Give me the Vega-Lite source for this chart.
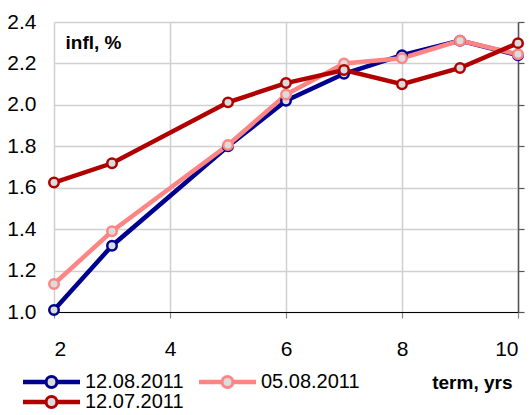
{
  "$schema": "https://vega.github.io/schema/vega-lite/v6.json",
  "autosize": {"type": "none"},
  "width": 464,
  "height": 290,
  "padding": {"left": 54, "top": 22, "right": 12, "bottom": 103},
  "config": {
    "font": "Liberation Sans",
    "view": {"stroke": null},
    "axis": {"labelColor": "#000", "titleColor": "#000"}
  },
  "data": {
    "values": [
      {"series": "12.08.2011", "term": 2, "value": 1.01},
      {"series": "12.08.2011", "term": 3, "value": 1.32},
      {"series": "12.08.2011", "term": 5, "value": 1.80},
      {"series": "12.08.2011", "term": 6, "value": 2.02},
      {"series": "12.08.2011", "term": 7, "value": 2.15},
      {"series": "12.08.2011", "term": 8, "value": 2.24},
      {"series": "12.08.2011", "term": 9, "value": 2.31},
      {"series": "12.08.2011", "term": 10, "value": 2.24},
      {"series": "05.08.2011", "term": 2, "value": 1.135},
      {"series": "05.08.2011", "term": 3, "value": 1.39},
      {"series": "05.08.2011", "term": 5, "value": 1.806},
      {"series": "05.08.2011", "term": 6, "value": 2.05},
      {"series": "05.08.2011", "term": 7, "value": 2.20},
      {"series": "05.08.2011", "term": 8, "value": 2.225},
      {"series": "05.08.2011", "term": 9, "value": 2.31},
      {"series": "05.08.2011", "term": 10, "value": 2.244},
      {"series": "12.07.2011", "term": 2, "value": 1.625},
      {"series": "12.07.2011", "term": 3, "value": 1.718},
      {"series": "12.07.2011", "term": 5, "value": 2.012},
      {"series": "12.07.2011", "term": 6, "value": 2.105},
      {"series": "12.07.2011", "term": 7, "value": 2.168},
      {"series": "12.07.2011", "term": 8, "value": 2.10},
      {"series": "12.07.2011", "term": 9, "value": 2.178},
      {"series": "12.07.2011", "term": 10, "value": 2.298}
    ]
  },
  "encoding": {
    "x": {
      "field": "term",
      "type": "quantitative",
      "scale": {"domain": [2, 10], "nice": false, "zero": false},
      "axis": {
        "values": [2, 4, 6, 8, 10],
        "grid": true,
        "gridColor": "#d0d0d0",
        "gridWidth": 1.5,
        "domainColor": "#000",
        "domainWidth": 1.2,
        "tickColor": "#888",
        "tickSize": 6,
        "tickWidth": 1.2,
        "labelFontSize": 21,
        "labelPadding": 20,
        "labelBaseline": "top",
        "title": "term, yrs",
        "titleFontSize": 19,
        "titleFontWeight": "bold",
        "titleX": 458,
        "titleY": 76,
        "titleAlign": "right",
        "titleBaseline": "alphabetic"
      }
    }
  },
  "layer": [
    {
      "mark": {"type": "line", "strokeWidth": 4.5},
      "encoding": {
        "y": {
          "field": "value",
          "type": "quantitative",
          "scale": {"domain": [1.0, 2.4], "nice": false, "zero": false},
          "axis": {
            "values": [1.0, 1.2, 1.4, 1.6, 1.8, 2.0, 2.2, 2.4],
            "format": ".1f",
            "grid": true,
            "gridColor": "#d0d0d0",
            "gridWidth": 1.5,
            "domain": false,
            "ticks": false,
            "labelPadding": 18,
            "labelFontSize": 21,
            "title": "infl, %",
            "titleAngle": 0,
            "titleFontSize": 19,
            "titleFontWeight": "bold",
            "titleX": 11,
            "titleY": 26,
            "titleAlign": "left",
            "titleBaseline": "alphabetic"
          }
        },
        "color": {
          "field": "series",
          "type": "nominal",
          "scale": {
            "domain": ["12.08.2011", "05.08.2011", "12.07.2011"],
            "range": ["#000090", "#ff8585", "#b00000"]
          },
          "legend": {
            "orient": "none",
            "legendX": -31,
            "legendY": 350,
            "direction": "horizontal",
            "columns": 2,
            "columnPadding": 15,
            "rowPadding": 0,
            "title": null,
            "symbolType": "M-1,-0.03H-0.2V0.03H-1Z M0.2,-0.03H1V0.03H0.2Z M-0.2,0A0.2,0.2 0 1,1 0.2,0A0.2,0.2 0 1,1 -0.2,0Z",
            "symbolSize": 2916,
            "symbolStrokeWidth": 3,
            "labelFontSize": 20,
            "labelOffset": 5,
            "labelColor": "#000",
            "clipHeight": 20,
            "encode": {
              "symbols": {
                "update": {
                  "fill": {"value": "#dcdcdc"},
                  "fillOpacity": {"value": 1},
                  "strokeWidth": {"value": 3}
                }
              }
            }
          }
        }
      }
    },
    {
      "mark": {"type": "point", "filled": false, "fill": "#dcdcdc", "fillOpacity": 1, "opacity": 1, "size": 90, "strokeWidth": 2.5},
      "encoding": {
        "y": {
          "field": "value",
          "type": "quantitative",
          "axis": {
            "orient": "right",
            "values": [1.0, 1.2, 1.4, 1.6, 1.8, 2.0, 2.2, 2.4],
            "labels": false,
            "grid": false,
            "domainColor": "#555",
            "domainWidth": 1.5,
            "tickColor": "#555",
            "tickSize": 6,
            "tickWidth": 1.2,
            "title": null
          }
        },
        "stroke": {
          "field": "series",
          "type": "nominal",
          "scale": {
            "domain": ["12.08.2011", "05.08.2011", "12.07.2011"],
            "range": ["#000090", "#ff8585", "#b00000"]
          },
          "legend": null
        }
      }
    }
  ],
  "resolve": {"axis": {"y": "independent"}}
}
